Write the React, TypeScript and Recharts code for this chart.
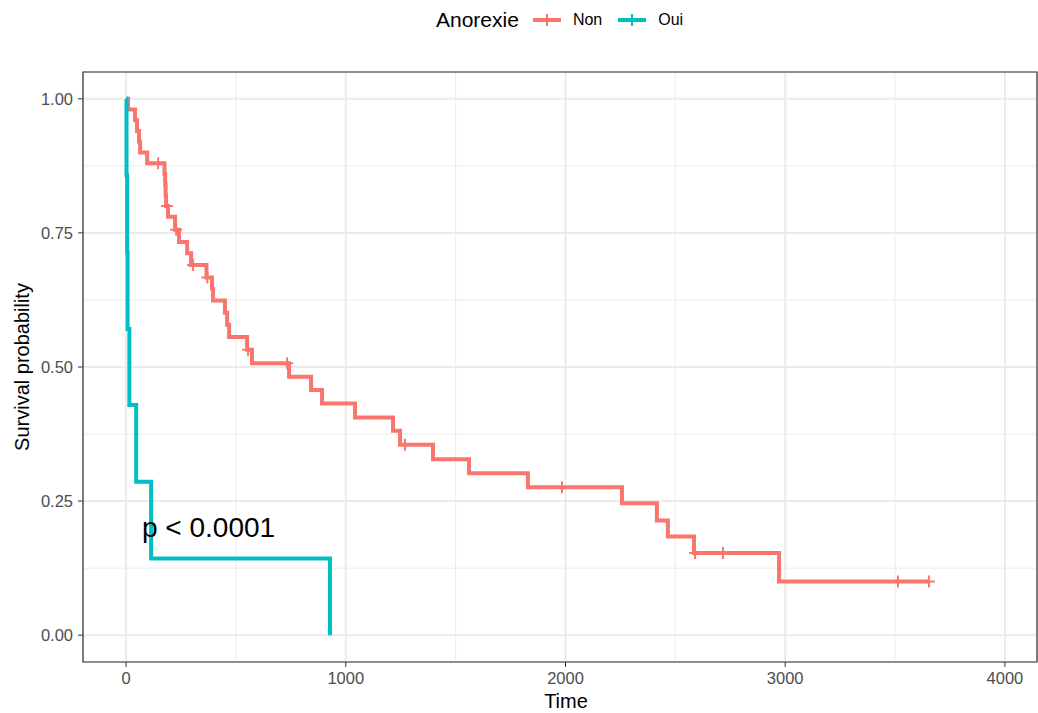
import { type FC } from 'react';
import { LineChart, Line, XAxis, YAxis, CartesianGrid, ReferenceArea } from 'recharts';

// Kaplan-Meier estimates
const nonTime = [0, 9, 41, 50, 59, 64, 96, 146, 175, 178, 180, 182, 186, 191, 223, 228, 241, 278, 296, 305, 366, 370, 391, 396, 450, 460, 469, 551, 555, 573, 733, 742, 842, 892, 1042, 1215, 1247, 1270, 1397, 1561, 1829, 1984, 2257, 2416, 2466, 2585, 2590, 2717, 2972, 3513, 3654];
const nonSurv = [1, 0.98, 0.96, 0.94, 0.92, 0.9, 0.88, 0.88, 0.86, 0.84, 0.82, 0.8, 0.8, 0.78, 0.756, 0.756, 0.733, 0.712, 0.69, 0.69, 0.667, 0.667, 0.646, 0.624, 0.601, 0.579, 0.556, 0.532, 0.532, 0.507, 0.507, 0.482, 0.457, 0.432, 0.406, 0.381, 0.355, 0.355, 0.328, 0.302, 0.276, 0.276, 0.246, 0.214, 0.184, 0.153, 0.153, 0.153, 0.1, 0.1, 0.1];
const nonCensored = [0, 0, 0, 0, 0, 0, 0, 1, 0, 0, 0, 0, 1, 0, 0, 1, 0, 0, 0, 1, 0, 1, 0, 0, 0, 0, 0, 0, 1, 0, 1, 0, 0, 0, 0, 0, 0, 1, 0, 0, 0, 1, 0, 0, 0, 0, 1, 1, 0, 1, 1];

const ouiTime = [0, 2, 5, 7, 15, 46, 114, 928];
const ouiSurv = [1, 0.857, 0.714, 0.571, 0.429, 0.286, 0.143, 0];

const xTicks = [0, 1000, 2000, 3000, 4000];
const xMinor = [500, 1500, 2500, 3500];
const yTicks = [0, 0.25, 0.5, 0.75, 1];
const yMinor = [0.125, 0.375, 0.625, 0.875];

const NON_COLOR = '#F8766D';
const OUI_COLOR = '#00BFC4';
const BORDER = '#333333';
const FONT = '"Liberation Sans", Arial, sans-serif';

const nonData = nonTime.map((t, i) => ({ time: t, surv: nonSurv[i], censor: nonCensored[i] === 1 }));
const ouiData = ouiTime.map((t, i) => ({ time: t, surv: ouiSurv[i], censor: false }));

const xDomain: [number, number] = [-196, 4146];
const yDomain: [number, number] = [-0.05, 1.05];

const makeCensor = (color: string) => (props: any) => {
  const { cx, cy, payload, index } = props;
  if (!payload?.censor || cx == null || cy == null) return <g key={`c-${index}`} />;
  return (
    <path
      key={`c-${index}`}
      d={`M${cx - 6},${cy}H${cx + 6}M${cx},${cy - 6}V${cy + 6}`}
      stroke={color}
      strokeWidth={2}
      fill="none"
    />
  );
};

const LegendKey: FC<{ color: string }> = ({ color }) => (
  <svg width={28} height={16} style={{ display: 'block' }}>
    <line x1={0} y1={8} x2={28} y2={8} stroke={color} strokeWidth={4} />
    <line x1={14} y1={2} x2={14} y2={14} stroke={color} strokeWidth={2} />
  </svg>
);

const App: FC = () => {
  return (
    <div style={{ position: 'absolute', left: 0, top: 0, width: 1038, height: 713, background: '#fff', fontFamily: FONT }}>
      <div style={{ position: 'absolute', top: 8, left: 436, display: 'flex', alignItems: 'center', color: '#000' }}>
        <span style={{ fontSize: 21, marginRight: 14 }}>Anorexie</span>
        <LegendKey color={NON_COLOR} />
        <span style={{ fontSize: 16, marginLeft: 12, marginRight: 16 }}>Non</span>
        <LegendKey color={OUI_COLOR} />
        <span style={{ fontSize: 16, marginLeft: 12 }}>Oui</span>
      </div>
      <LineChart width={1038} height={713} margin={{ top: 72, right: 1, bottom: 0, left: 0 }} style={{ fontFamily: FONT }}>
        <CartesianGrid stroke="#EBEBEB" strokeWidth={1} verticalValues={xMinor} horizontalValues={yMinor} />
        <CartesianGrid stroke="#EBEBEB" strokeWidth={2} />
        <XAxis
          dataKey="time"
          type="number"
          domain={xDomain}
          ticks={xTicks}
          allowDataOverflow
          height={51}
          tickSize={5}
          tickMargin={5}
          tick={{ fontSize: 16.5, fill: '#4D4D4D' }}
          tickLine={{ stroke: BORDER }}
          axisLine={false}
        />
        <YAxis
          type="number"
          domain={yDomain}
          ticks={yTicks}
          allowDataOverflow
          width={83}
          tickSize={5}
          tickMargin={5}
          tickFormatter={(v: number) => v.toFixed(2)}
          tick={{ fontSize: 16.5, fill: '#4D4D4D' }}
          tickLine={{ stroke: BORDER }}
          axisLine={false}
        />
        <ReferenceArea
          x1={xDomain[0]}
          x2={xDomain[1]}
          y1={yDomain[0]}
          y2={yDomain[1]}
          fill="none"
          fillOpacity={0}
          stroke={BORDER}
          strokeWidth={1.2}
          ifOverflow="visible"
        />
        <Line
          data={nonData}
          dataKey="surv"
          type="stepAfter"
          stroke={NON_COLOR}
          strokeWidth={4}
          dot={makeCensor(NON_COLOR)}
          activeDot={false}
          isAnimationActive={false}
        />
        <Line
          data={ouiData}
          dataKey="surv"
          type="stepAfter"
          stroke={OUI_COLOR}
          strokeWidth={4}
          dot={false}
          activeDot={false}
          isAnimationActive={false}
        />
      </LineChart>
      <div style={{ position: 'absolute', left: 142, top: 512, fontSize: 28, color: '#000', whiteSpace: 'nowrap' }}>p &lt; 0.0001</div>
      <div style={{ position: 'absolute', left: 0, width: 1038, top: 690, textAlign: 'center', paddingLeft: 94, boxSizing: 'border-box', fontSize: 20, color: '#000' }}>Time</div>
      <div
        style={{
          position: 'absolute',
          left: 22,
          top: 367,
          fontSize: 20,
          color: '#000',
          whiteSpace: 'nowrap',
          transform: 'translate(-50%, -50%) rotate(-90deg)',
        }}
      >
        Survival probability
      </div>
    </div>
  );
};

export default App;
